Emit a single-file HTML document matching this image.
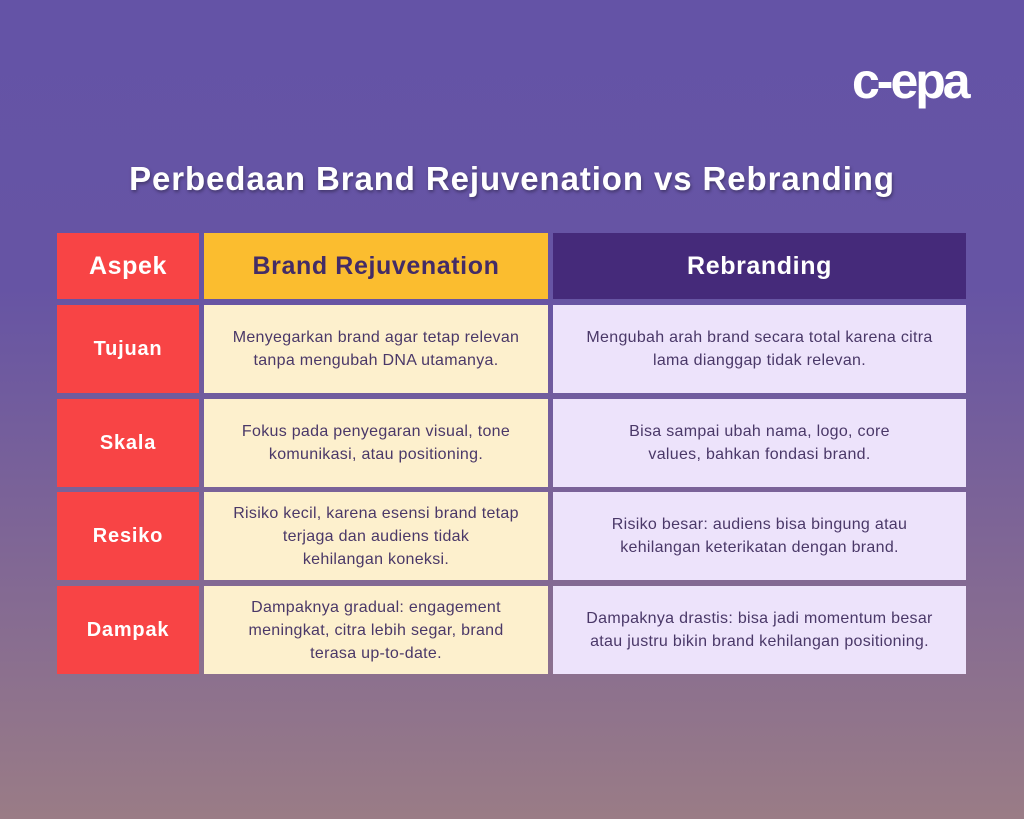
<!DOCTYPE html>
<html><head><meta charset="utf-8"><style>
body{margin:0;width:1024px;height:819px;overflow:hidden;background:linear-gradient(180deg,#6453a6 0%,#6654a4 35%,#7e6596 65%,#9a7c86 100%);font-family:"Liberation Sans",sans-serif;position:relative}
.t{position:absolute;left:0;width:1024px;top:160px;text-align:center;color:#fff;font-weight:bold;font-size:33px;letter-spacing:0.9px;text-shadow:1px 2px 3px rgba(0,0,0,.35)}
.c{position:absolute;display:flex;align-items:center;justify-content:center;text-align:center;box-sizing:border-box;white-space:nowrap}
.a{background:#f84445;color:#fff;font-weight:bold;font-size:20px;letter-spacing:0.8px;left:57px;width:142px}
.b{background:#fdf0cd;color:#4a3868;font-size:16px;letter-spacing:0.3px;line-height:23px;left:204px;width:344px}
.r{background:#ede3fb;color:#4a3868;font-size:16px;letter-spacing:0.3px;line-height:23px;left:553px;width:413px}
.h{font-size:25px;letter-spacing:0.6px;font-weight:bold}
.logo{position:absolute;left:852px;top:52px;color:#fff;font-weight:bold;font-size:50px;letter-spacing:-3px}
</style></head><body>
<div class="logo">c-epa</div>
<div class="t">Perbedaan Brand Rejuvenation vs Rebranding</div>
<div class="c a h" style="top:233px;height:66px">Aspek</div>
<div class="c b h" style="top:233px;height:66px;background:#fbbd2f;color:#432c66">Brand Rejuvenation</div>
<div class="c r h" style="top:233px;height:66px;background:#452a7a;color:#fff">Rebranding</div>

<div class="c a" style="top:305px;height:88px">Tujuan</div>
<div class="c b" style="top:305px;height:88px">Menyegarkan brand agar tetap relevan<br>tanpa mengubah DNA utamanya.</div>
<div class="c r" style="top:305px;height:88px">Mengubah arah brand secara total karena citra<br>lama dianggap tidak relevan.</div>

<div class="c a" style="top:399px;height:88px">Skala</div>
<div class="c b" style="top:399px;height:88px">Fokus pada penyegaran visual, tone<br>komunikasi, atau positioning.</div>
<div class="c r" style="top:399px;height:88px">Bisa sampai ubah nama, logo, core<br>values, bahkan fondasi brand.</div>

<div class="c a" style="top:492px;height:88px">Resiko</div>
<div class="c b" style="top:492px;height:88px">Risiko kecil, karena esensi brand tetap<br>terjaga dan audiens tidak<br>kehilangan koneksi.</div>
<div class="c r" style="top:492px;height:88px">Risiko besar: audiens bisa bingung atau<br>kehilangan keterikatan dengan brand.</div>

<div class="c a" style="top:586px;height:88px">Dampak</div>
<div class="c b" style="top:586px;height:88px">Dampaknya gradual: engagement<br>meningkat, citra lebih segar, brand<br>terasa up-to-date.</div>
<div class="c r" style="top:586px;height:88px">Dampaknya drastis: bisa jadi momentum besar<br>atau justru bikin brand kehilangan positioning.</div>
</body></html>
